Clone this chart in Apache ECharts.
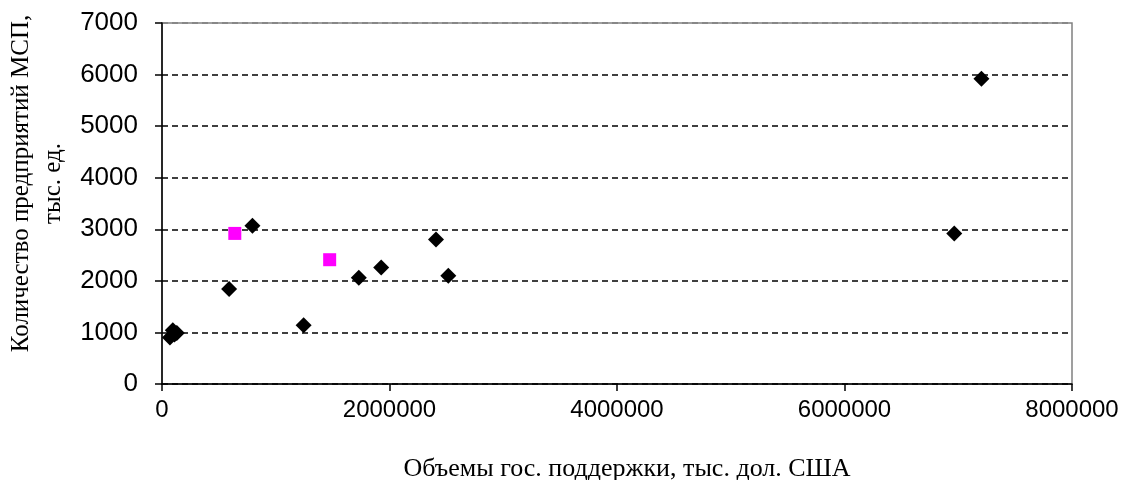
<!DOCTYPE html>
<html>
<head>
<meta charset="utf-8">
<script src="https://cdn.jsdelivr.net/npm/echarts@6/dist/echarts.min.js"></script>
<style>
  html, body { margin: 0; padding: 0; background: #fff; }
  #chart { width: 1130px; height: 480px; }
</style>
</head>
<body>
<div id="chart"></div>
<script>
// объем господдержки (тыс. дол. США) и количество МСП (тыс. ед.)
var supportBlack = [70000, 95000, 130000, 110000, 590000, 795000, 1245000, 1730000, 1927000, 2409000, 2517000, 6965000, 7204000]
var firmsBlack = [900, 1040, 990, 960, 1840, 3070, 1140, 2060, 2260, 2800, 2100, 2920, 5920]
var supportPink = [640000, 1474000]
var firmsPink = [2920, 2410]

var xTitle = 'Объемы гос. поддержки, тыс. дол. США'
var yTitle = 'Количество предприятий МСП,\nтыс. ед.'

function pairs (xs, ys) {
  return xs.map(function (x, i) { return [x, ys[i]] })
}

var chart = echarts.init(document.getElementById('chart'))
chart.setOption({
  animation: false,
  grid: {
    left: 162,
    right: 58,
    top: 23,
    bottom: 96,
    outerBoundsMode: 'none',
    containLabel: false,
    show: true,
    borderColor: '#808080',
    borderWidth: 1.5
  },
  xAxis: {
    type: 'value',
    min: 0,
    max: 8000000,
    interval: 2000000,
    name: xTitle,
    nameLocation: 'middle',
    nameGap: 72,
    nameTextStyle: {
      fontFamily: 'Liberation Serif',
      fontSize: 26,
      color: '#000',
      padding: [0, 0, 0, 20]
    },
    axisLine: { show: true, onZero: false, lineStyle: { color: '#000', width: 1.5 } },
    axisTick: { show: true, length: 7, lineStyle: { color: '#000', width: 1.5 } },
    axisLabel: {
      fontFamily: 'Liberation Sans',
      fontSize: 24,
      color: '#000',
      margin: 14,
      formatter: function (v) { return String(v) }
    },
    splitLine: { show: false }
  },
  yAxis: {
    type: 'value',
    min: 0,
    max: 7000,
    interval: 1000,
    name: yTitle,
    nameLocation: 'middle',
    nameRotate: 90,
    nameGap: 92,
    nameTextStyle: {
      fontFamily: 'Liberation Serif',
      fontSize: 25,
      lineHeight: 32,
      color: '#000',
      padding: [0, 0, 0, 40]
    },
    axisLine: { show: true, lineStyle: { color: '#000', width: 1.5 } },
    axisTick: { show: true, inside: false, length: 7, lineStyle: { color: '#000', width: 1.5 } },
    axisLabel: {
      fontFamily: 'Liberation Sans',
      fontSize: 26,
      color: '#000',
      margin: 24,
      formatter: function (v) { return String(v) }
    },
    splitLine: {
      show: true,
      lineStyle: {
        color: ['#000', '#000', '#000', '#000', '#000', '#000', '#000', '#808080'],
        type: [6, 4],
        width: 1.5
      }
    }
  },
  series: [
    {
      name: 'black',
      type: 'scatter',
      symbol: 'diamond',
      symbolSize: [16, 16],
      itemStyle: { color: '#000', opacity: 1 },
      data: pairs(supportBlack, firmsBlack)
    },
    {
      name: 'pink',
      type: 'scatter',
      symbol: 'rect',
      symbolSize: 13,
      itemStyle: { color: '#ff00ff', opacity: 1 },
      data: pairs(supportPink, firmsPink)
    }
  ]
})
</script>
</body>
</html>
